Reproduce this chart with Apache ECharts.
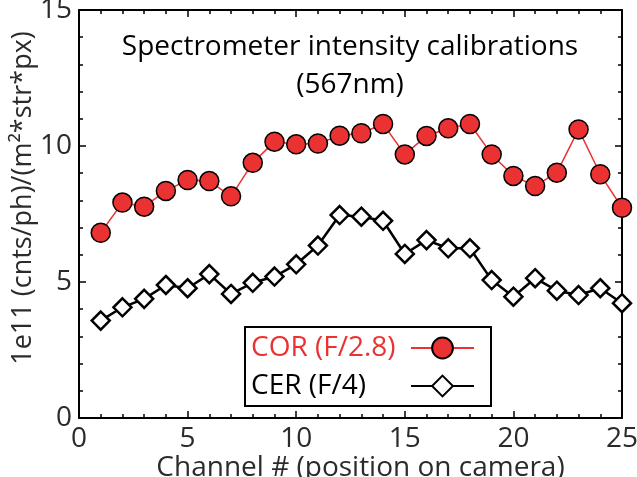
<!DOCTYPE html>
<html>
<head>
<meta charset="utf-8">
<script src="https://cdn.jsdelivr.net/npm/echarts@6/dist/echarts.min.js"></script>
<style>
html,body{margin:0;padding:0;background:#fff;}
#chart{width:637px;height:477px;}
</style>
</head>
<body>
<div id="chart"></div>
<script>
const channels = [1,2,3,4,5,6,7,8,9,10,11,12,13,14,15,16,17,18,19,20,21,22,23,24,25];
const corValues = [6.81,7.92,7.77,8.35,8.75,8.71,8.15,9.38,10.16,10.06,10.09,10.38,10.47,10.81,9.69,10.37,10.65,10.81,9.69,8.90,8.53,9.02,10.61,8.96,7.73];
const cerValues = [3.58,4.07,4.38,4.89,4.77,5.29,4.56,4.97,5.20,5.65,6.34,7.46,7.40,7.25,6.03,6.54,6.24,6.24,5.07,4.46,5.14,4.68,4.52,4.77,4.22];
const seriesNames = ['COR (F/2.8)', 'CER (F/4)'];
const xTicks = [0, 25, 5];
const yTicks = [0, 15, 5];

const FONT = 'Open Sans';
const RED = '#eb3232';
const LABEL = '#2b2b2b';

function pairs(xs, ys){ return xs.map((x,i)=>[x, ys[i]]); }

function axisCommon(show){
  return {
    axisLine: {show: true, onZero: false, lineStyle: {color: '#000', width: 2}},
    axisTick: {show: true, inside: true, length: 7, lineStyle: {color: '#000', width: 1.5}},
    minorTick: {show: true, splitNumber: 5, length: 4, lineStyle: {color: '#000', width: 1.5}},
    splitLine: {show: false},
    minorSplitLine: {show: false},
    axisLabel: {show: show, color: LABEL, fontFamily: FONT, fontSize: 28, margin: 7}
  };
}

const chart = echarts.init(document.getElementById('chart'), null, {renderer: 'canvas'});
const option = {
  animation: false,
  backgroundColor: '#fff',
  title: {
    text: 'Spectrometer intensity calibrations\n(567nm)',
    left: 350, top: 28, padding: 0, textAlign: 'center',
    textStyle: {fontFamily: FONT, fontSize: 28, fontWeight: 'normal', color: '#000', lineHeight: 38}
  },
  grid: {left: 79, right: 15, top: 10, bottom: 59, outerBoundsMode: 'none', containLabel: false},
  legend: {
    orient: 'vertical', left: 245, top: 327,
    align: 'right', selectedMode: false,
    padding: [7, 16, 6, 6],
    itemWidth: 63, itemHeight: 26, itemGap: 10,
    borderColor: '#000', borderWidth: 2, backgroundColor: '#fff',
    data: seriesNames,
    formatter: function(n){ return '{' + (n === seriesNames[0] ? 'r' : 'k') + '|' + n + '}'; },
    textStyle: {
      fontFamily: FONT, fontSize: 28,
      rich: {
        r: {width: 155, align: 'left', color: RED, fontFamily: FONT, fontSize: 28},
        k: {width: 155, align: 'left', color: '#000', fontFamily: FONT, fontSize: 28}
      }
    }
  },
  xAxis: [
    Object.assign({type: 'value', position: 'bottom', min: xTicks[0], max: xTicks[1], interval: xTicks[2],
      name: 'Channel # (position on camera)', nameLocation: 'middle', nameGap: 36, nameMoveOverlap: false,
      nameTextStyle: {fontFamily: FONT, fontSize: 28, color: LABEL, padding: [0,0,0,20]}}, axisCommon(true)),
    Object.assign({type: 'value', position: 'top', min: xTicks[0], max: xTicks[1], interval: xTicks[2]}, axisCommon(false))
  ],
  yAxis: [
    Object.assign({type: 'value', position: 'left', min: yTicks[0], max: yTicks[1], interval: yTicks[2],
      name: '1e11 (cnts/ph)/(m²*str*px)', nameLocation: 'middle', nameGap: 42, nameRotate: 90, nameMoveOverlap: false,
      nameTextStyle: {fontFamily: FONT, fontSize: 27, color: LABEL, padding: [0,0,0,32]}}, axisCommon(true)),
    Object.assign({type: 'value', position: 'right', min: yTicks[0], max: yTicks[1], interval: yTicks[2]}, axisCommon(false))
  ],
  series: [
    {
      name: seriesNames[1], type: 'line', xAxisIndex: 0, yAxisIndex: 0,
      data: pairs(channels, cerValues),
      symbol: 'diamond', symbolSize: 18,
      lineStyle: {color: '#000', width: 2.5},
      itemStyle: {color: '#fff', borderColor: '#000', borderWidth: 2.5},
      z: 3, clip: true
    },
    {
      name: seriesNames[0], type: 'line', xAxisIndex: 0, yAxisIndex: 0,
      data: pairs(channels, corValues),
      symbol: 'circle', symbolSize: 19,
      lineStyle: {color: RED, width: 1.5},
      itemStyle: {color: RED, borderColor: '#000', borderWidth: 1.5},
      z: 4, clip: true
    }
  ]
};
chart.setOption(option);
</script>
</body>
</html>
